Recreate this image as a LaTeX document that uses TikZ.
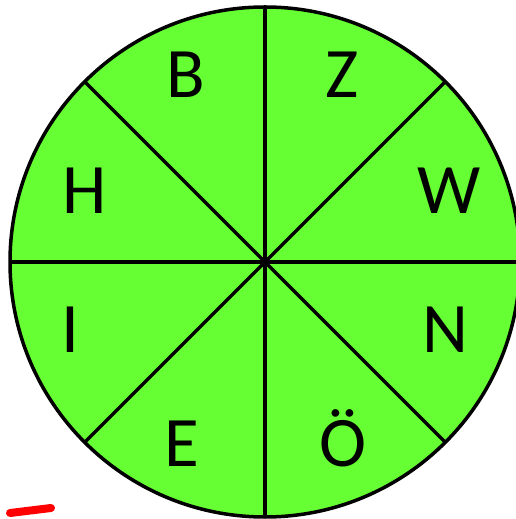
\documentclass[tikz,border=0pt]{standalone}
\usepackage{fontspec}
\setmainfont{Carlito}
\definecolor{wheelgreen}{RGB}{102,255,51}
\definecolor{markred}{RGB}{255,0,0}
\begin{document}
\begin{tikzpicture}[x=1pt,y=1pt,
  letter/.style={anchor=base,inner sep=0pt,font=\fontsize{71}{71}\selectfont},
  spoke/.style={line width=3.2pt}]
\useasboundingbox (0,0) rectangle (516,519);
\coordinate (c) at (265,257);
\fill[wheelgreen] (c) circle[radius=255];
\foreach \a in {0,45,...,315} \draw[spoke] (c) -- ++(\a:255);
\draw[line width=3.5pt] (c) circle[radius=255];
\node[letter] (B) at (186,421) {B};
\node[letter] (Z) at (342,421) {Z};
\node[letter] (H) at (85,305) {H};
\node[letter] (W) at (449,305) {W};
\node[letter] (I) at (70,166) {I};
\node[letter] (N) at (445,166) {N};
\node[letter] (E) at (182,52) {E};
\node[letter] (O) at (343,52) {Ö};
\coordinate (r1) at (10,6);
\coordinate (r2) at (51,11);
\draw[markred,line width=8pt,line cap=round] (r1) -- (r2);
\end{tikzpicture}
\end{document}
